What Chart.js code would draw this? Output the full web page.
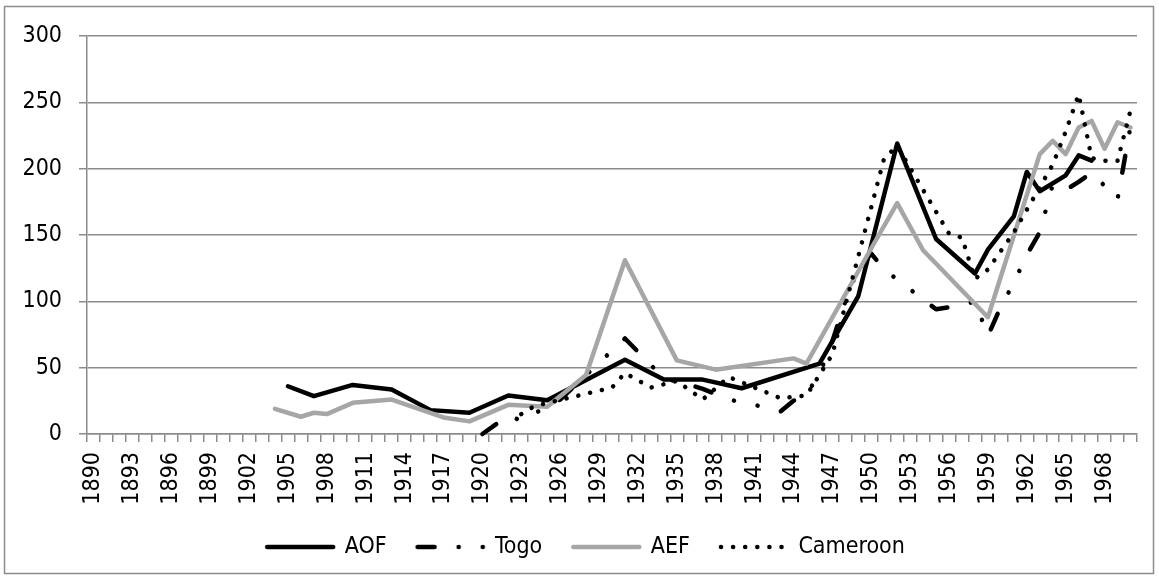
<!DOCTYPE html>
<html>
<head>
<meta charset="utf-8">
<script src="https://cdn.jsdelivr.net/npm/chart.js@4.4.0/dist/chart.umd.min.js"></script>
<style>
html, body { margin: 0; padding: 0; background: #ffffff; }
canvas { display: block; }
</style>
</head>
<body>
<canvas id="c" width="1159" height="580"></canvas>
<script>
// ---- categories (years) ----
const firstYear = 1890;
const lastYear = 1970;
const categories = [];
for (let y = firstYear; y <= lastYear; y++) categories.push(String(y));

// ---- series ----
const aofYears  = [1905, 1907, 1910, 1913, 1916, 1919, 1922, 1925, 1931, 1934, 1937, 1940, 1946, 1949, 1952, 1955, 1958, 1959, 1961, 1962, 1963, 1965, 1966, 1967];
const aofValues = [36, 28.5, 37, 33.5, 18, 16, 29, 25.5, 56, 41, 41, 34.5, 53, 104, 219, 147, 121, 139, 164, 197.5, 183, 195, 210, 206];

const togoYears  = [1920, 1922, 1923, 1926, 1931, 1934, 1936, 1937, 1939, 1941, 1943, 1944, 1945, 1946, 1947, 1948, 1949, 1950, 1951, 1955, 1957, 1958, 1959, 1960, 1961, 1962, 1963, 1964, 1965, 1966, 1967, 1969, 1970];
const togoValues = [0, 14, 10, 26, 72, 42, 37, 34, 26, 22, 17, 25, 30, 45, 70, 100, 125, 136, 124, 94, 97, 100, 74, 96, 114, 135, 152, 188, 184, 190, 197, 177, 232];

const aefYears  = [1904, 1906, 1907, 1908, 1910, 1913, 1917, 1919, 1922, 1925, 1928, 1931, 1935, 1938, 1944, 1945, 1950, 1952, 1954, 1959, 1963, 1964, 1965, 1966, 1967, 1968, 1969, 1970];
const aefValues = [19, 13, 16, 15, 23.5, 26, 12.5, 9.5, 22, 20.5, 44.5, 131, 55.5, 48.5, 57, 53, 140, 174, 138.5, 88, 211, 221, 211, 231, 236, 215, 235, 231];

const camYears  = [1923, 1924, 1930, 1931, 1933, 1935, 1937, 1939, 1943, 1944, 1945, 1947, 1951, 1952, 1956, 1957, 1958, 1959, 1961, 1964, 1965, 1966, 1967, 1968, 1969, 1970];
const camValues = [15, 21, 35, 46, 35, 40, 26, 43, 27, 28, 29, 60, 208, 217, 151, 148, 117, 124, 152, 203, 228, 256, 208, 206, 206, 244];

const seriesNames = ['AOF', 'Togo', 'AEF', 'Cameroon'];
const yTicks = [0, 50, 100, 150, 200, 250, 300];

function toSeries(years, values) {
  const out = categories.map(() => null);
  years.forEach((y, i) => { out[y - firstYear] = values[i]; });
  return out;
}

Chart.defaults.font.family = "'DejaVu Sans Condensed', 'DejaVu Sans', sans-serif";
Chart.defaults.font.size = 23;
Chart.defaults.color = '#000000';

const GRID = '#8c8c8c';
const SAMPLE_W = 66;

const common = { borderWidth: 4.5, borderCapStyle: 'round', borderJoinStyle: 'round', pointRadius: 0, pointHoverRadius: 0, tension: 0, fill: false, clip: false };

const datasets = [
  Object.assign({ label: seriesNames[0], data: toSeries(aofYears, aofValues), borderColor: '#000000', backgroundColor: '#000000', borderDash: [], order: 4 }, common),
  Object.assign({ label: seriesNames[1], data: toSeries(togoYears, togoValues), borderColor: '#000000', backgroundColor: '#000000', borderDash: [17, 24, 0.1, 24, 0.1, 24], order: 3 }, common),
  Object.assign({ label: seriesNames[2], data: toSeries(aefYears, aefValues), borderColor: '#a6a6a6', backgroundColor: '#a6a6a6', borderDash: [], order: 2 }, common),
  Object.assign({ label: seriesNames[3], data: toSeries(camYears, camValues), borderColor: '#000000', backgroundColor: '#000000', borderDash: [0.1, 12], order: 1 }, common)
];

// legend line samples drawn with each dataset's own stroke style
function makeSample(ds) {
  const pad = 4;
  const c = document.createElement('canvas');
  c.width = SAMPLE_W + pad * 2;
  c.height = 10;
  const g = c.getContext('2d');
  g.strokeStyle = ds.borderColor;
  g.lineWidth = ds.borderWidth;
  g.lineCap = ds.borderCapStyle;
  g.setLineDash(ds.borderDash || []);
  g.beginPath();
  g.moveTo(pad, 5);
  g.lineTo(pad + SAMPLE_W, 5);
  g.stroke();
  return c;
}
const legendSamples = datasets.map(makeSample);

const borderPlugin = {
  id: 'outerBorder',
  beforeDraw(chart) {
    const ctx = chart.ctx;
    ctx.save();
    ctx.strokeStyle = GRID;
    ctx.lineWidth = 1.5;
    ctx.strokeRect(4.5, 6.5, 1149, 567);
    ctx.restore();
  }
};

const legendShift = {
  id: 'legendShift',
  afterLayout(chart) {
    const lg = chart.legend;
    if (!lg) return;
    const dx = 586 - (lg.left + lg.right) / 2;
    lg.left += dx;
    lg.right += dx;
  }
};

new Chart(document.getElementById('c'), {
  type: 'line',
  data: { labels: categories, datasets: datasets },
  options: {
    responsive: false,
    animation: false,
    devicePixelRatio: 1,
    spanGaps: true,
    events: [],
    layout: { padding: { left: 0, top: 36, right: 22, bottom: 11.5 } },
    plugins: {
      legend: {
        position: 'bottom',
        labels: {
          usePointStyle: true,
          pointStyleWidth: SAMPLE_W,
          padding: 31,
          color: '#000000',
          font: { size: 23 },
          sort: (a, b) => a.datasetIndex - b.datasetIndex,
          generateLabels: (chart) => {
            const items = Chart.defaults.plugins.legend.labels.generateLabels(chart);
            items.forEach(it => { it.pointStyle = legendSamples[it.datasetIndex]; });
            return items;
          }
        }
      },
      tooltip: { enabled: false }
    },
    scales: {
      x: {
        type: 'category',
        offset: true,
        grid: { display: true, drawOnChartArea: false, drawTicks: true, tickLength: 8, offset: true, color: GRID, lineWidth: 1.5 },
        border: { display: true, color: GRID, width: 1.5 },
        ticks: {
          autoSkip: false, maxRotation: 90, minRotation: 90, padding: 10, color: '#000000', font: { size: 23 },
          callback: (v, i) => (i % 3 === 0 ? categories[i] : '')
        },
        afterFit: (s) => { s.height = 70.5; s.paddingLeft = 0; s.paddingRight = 0; }
      },
      y: {
        min: yTicks[0],
        max: yTicks[yTicks.length - 1],
        afterBuildTicks: (s) => { s.ticks = yTicks.map(v => ({ value: v })); },
        ticks: { padding: 17, color: '#000000', font: { size: 23 } },
        grid: { color: GRID, lineWidth: 1.5, tickLength: 8, drawTicks: true },
        border: { display: true, color: GRID, width: 1.5 },
        afterFit: (s) => { s.width = 87; s.paddingTop = 0; s.paddingBottom = 0; }
      }
    }
  },
  plugins: [borderPlugin, legendShift]
});
</script>
</body>
</html>
